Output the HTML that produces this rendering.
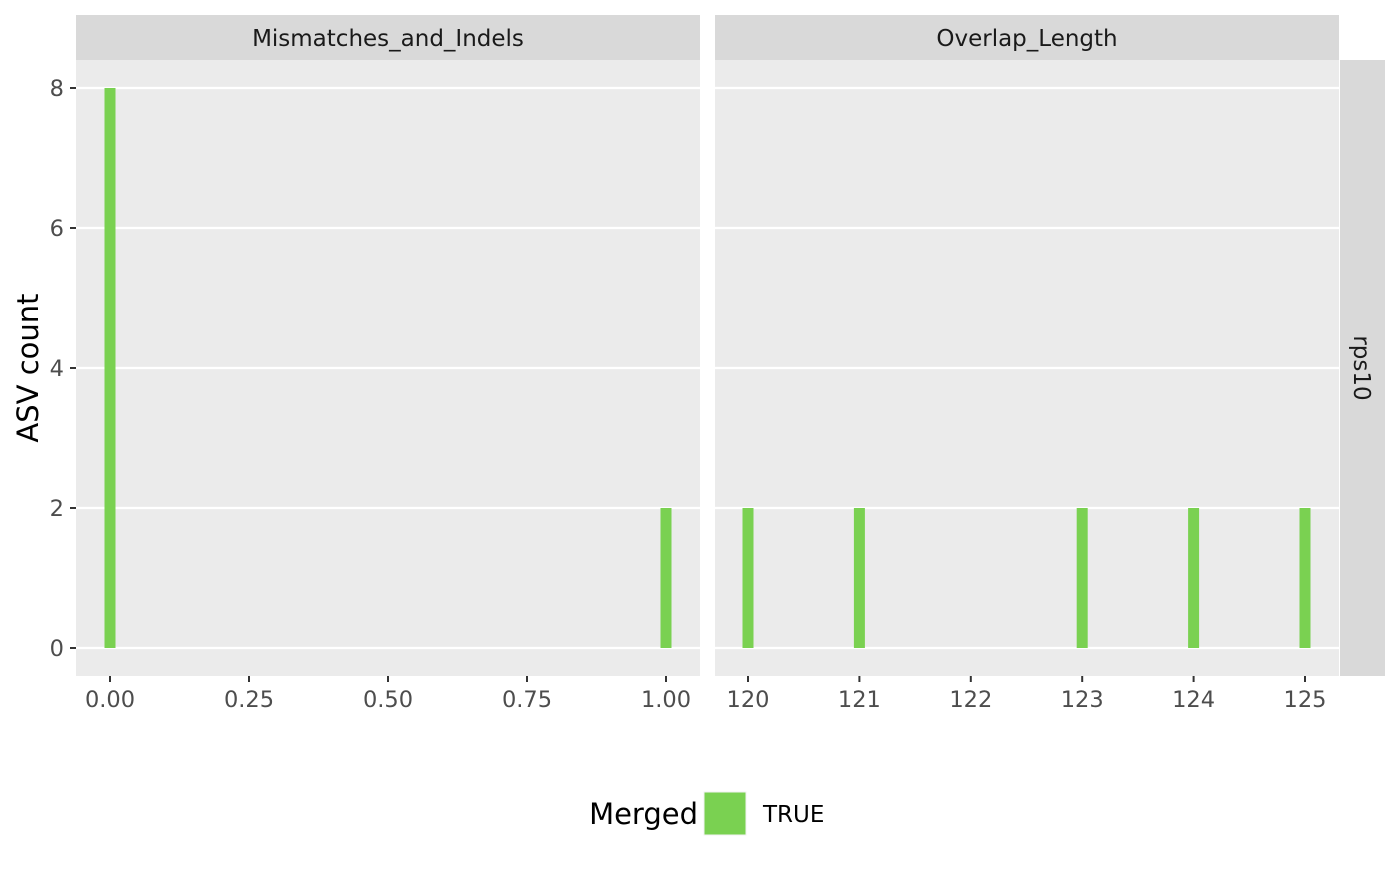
<!DOCTYPE html>
<html><head><meta charset="utf-8"><style>
body{margin:0;background:#fff;}
svg text{font-family:"DejaVu Sans","Liberation Sans",sans-serif;}
</style></head><body>
<svg id="chart" width="1400" height="866" xmlns="http://www.w3.org/2000/svg">
<g id="root"></g>
</svg>
<script>
const yTicks=[0,2,4,6,8];
const p1Values=[0,1];
const p1Counts=[8,2];
const p1Ticks=["0.00","0.25","0.50","0.75","1.00"];
const p2Values=[120,121,123,124,125];
const p2Counts=[2,2,2,2,2];
const p2Ticks=["120","121","122","123","124","125"];
const facetTitles=["Mismatches_and_Indels","Overlap_Length"];
const rowStrip="rps10";

const NS="http://www.w3.org/2000/svg";
const root=document.getElementById('root');
function el(tag,attrs,parent,txt){const e=document.createElementNS(NS,tag);for(const k in attrs)e.setAttribute(k,attrs[k]);if(txt!==undefined)e.textContent=txt;(parent||root).appendChild(e);return e;}
const panelTop=60,panelBottom=676;
const y=v=>648-v*70;
const panels=[
 {x0:76,x1:700,sx:v=>110+v*556,vals:p1Values,counts:p1Counts,ticks:p1Ticks,bw:11,title:facetTitles[0]},
 {x0:715,x1:1339,sx:v=>748+(v-120)*111.4,vals:p2Values,counts:p2Counts,ticks:p2Ticks,bw:11,title:facetTitles[1]}
];
panels.forEach((p,i)=>{
 const g=el('g',{});
 
 
 const s=el('rect',{x:p.x0,y:15,width:p.x1-p.x0,height:45,fill:'#d9d9d9'},g);
 
 
 const st=el('text',{x:(p.x0+p.x1)/2,y:46,'text-anchor':'middle','font-size':'23',fill:'#1a1a1a'},g,p.title);
 
 
 el('rect',{x:p.x0,y:panelTop,width:p.x1-p.x0,height:panelBottom-panelTop,fill:'#ebebeb'},g);
 yTicks.forEach(v=>{const l=el('line',{x1:p.x0,x2:p.x1,y1:y(v),y2:y(v),stroke:'#fff','stroke-width':2.2},g);
  
  });
 p.vals.forEach((v,j)=>{const r=el('rect',{x:p.sx(v)-p.bw/2,y:y(p.counts[j]),width:p.bw,height:y(0)-y(p.counts[j]),fill:'#7ad151'},g);
  
  });
 p.ticks.forEach(t=>{const xx=p.sx(parseFloat(t));
  el('line',{x1:xx,x2:xx,y1:panelBottom,y2:panelBottom+6,stroke:'#333','stroke-width':2},g);
  const tl=el('text',{x:xx,y:707,'text-anchor':'middle','font-size':'22.5',fill:'#4d4d4d'},g,t);
  
  });
});
yTicks.forEach(v=>{el('line',{x1:70,x2:76,y1:y(v),y2:y(v),stroke:'#333','stroke-width':2});
 const t=el('text',{x:64,y:y(v)+8,'text-anchor':'end','font-size':'22.5',fill:'#4d4d4d'},root,String(v));
 
 });
const rs=el('rect',{x:1340,y:60,width:45,height:616,fill:'#d9d9d9'});


const rt=el('text',{x:1354,y:368,'text-anchor':'middle','font-size':'23',fill:'#1a1a1a',transform:'rotate(90 1354 368)'},root,rowStrip);


const yt=el('text',{x:38,y:368,'text-anchor':'middle','font-size':'29',fill:'#000',transform:'rotate(-90 38 368)'},root,'ASV count');


const lg=el('g',{});


el('text',{x:698,y:824,'text-anchor':'end','font-size':'29',fill:'#000'},lg,'Merged');
el('rect',{x:704,y:792,width:42,height:43,fill:'#7ad151',stroke:'#f2f2f2','stroke-width':1},lg);
el('text',{x:763,y:822,'font-size':'23',fill:'#000'},lg,'TRUE');
</script>
</body></html>
